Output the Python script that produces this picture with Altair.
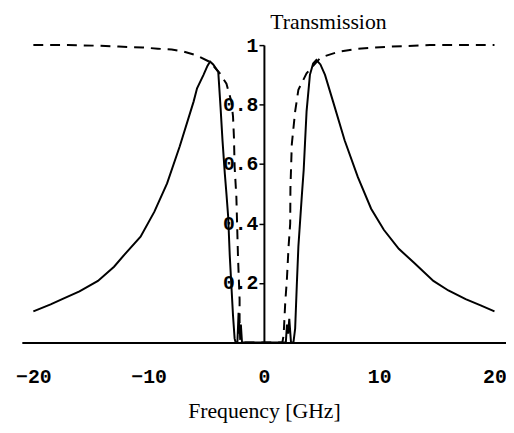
import altair as alt
import pandas as pd

# Solid curve (frequency in GHz, transmission)
solid_f = [-20, -18.5, -17.5, -16, -14.4, -13, -12, -10.7, -9.5, -8.4, -7.3, -6.1, -5.8, -5.24,
           -4.9, -4.67, -4.4, -3.96, -3.76, -3.59, -3.39, -3.25, -3.1, -2.96, -2.82, -2.68, -2.54,
           -2.45, -2.3, -2.2, -2.1, -2.0, -1.9,
           1.9, 2.0, 2.1, 2.2, 2.35, 2.56, 2.71, 2.85, 2.99, 3.3, 3.45, 3.56, 3.7, 3.99, 4.27, 4.55,
           4.9, 5.3, 6.0, 7.0, 8.15, 9.3, 10.4, 11.7, 13.0, 14.7, 16.0, 17.5, 18.8, 20]
solid_t = [0.105, 0.128, 0.146, 0.172, 0.207, 0.255, 0.3, 0.356, 0.44, 0.535, 0.66, 0.81, 0.855, 0.9,
           0.93, 0.945, 0.935, 0.91, 0.79, 0.678, 0.567, 0.50, 0.423, 0.29, 0.19, 0.09, 0.013,
           0, 0, 0.1, 0.03, 0.06, 0,
           0, 0.06, 0.03, 0.08, 0, 0, 0.047, 0.19, 0.323, 0.5, 0.58, 0.667, 0.777, 0.9, 0.938, 0.95,
           0.935, 0.9, 0.81, 0.68, 0.556, 0.45, 0.379, 0.315, 0.269, 0.207, 0.175, 0.146, 0.125, 0.105]

# Dashed curve
dash_f = [-20, -17, -14.4, -12.6, -10.5, -9.2, -8, -6.95, -5.8, -4.67, -3.82, -3.25, -2.82, -2.68,
          -2.6, -2.54, -2.39, -2.25, -2.11, -2.11, -2.05, -1.7,
          1.6, 1.71, 1.85, 1.99, 2.14, 2.28, 2.3, 2.42, 2.71, 2.99, 3.7, 4.27, 4.84, 5.3, 6.5, 8.15,
          11, 14.4, 20]
dash_t = [1.0, 1.0, 0.998, 0.995, 0.992, 0.988, 0.985, 0.978, 0.965, 0.943, 0.905, 0.87, 0.81, 0.76,
          0.69, 0.59, 0.49, 0.29, 0.146, 0.07, 0, 0,
          0, 0.024, 0.135, 0.21, 0.323, 0.4, 0.52, 0.667, 0.777, 0.85, 0.905, 0.93, 0.955, 0.963, 0.978, 0.988,
          0.995, 1.0, 1.0]

x_ticks = [-20, -10, 0, 10, 20]
y_ticks = [0.2, 0.4, 0.6, 0.8, 1]

rows = []
for i, (f, t) in enumerate(zip(solid_f, solid_t)):
    rows.append({"f": f, "t": t, "s": "solid", "i": i})
for i, (f, t) in enumerate(zip(dash_f, dash_t)):
    rows.append({"f": f, "t": t, "s": "dash", "i": i})
df = pd.DataFrame(rows)

W, H = 490, 301
xs = alt.Scale(domain=[-21, 21], nice=False, zero=False)
ys = alt.Scale(domain=[0, 1], nice=False)

xaxis = alt.Axis(values=x_ticks, format="d", title="Frequency [GHz]", grid=False,
                 tickSize=0, labelPadding=24, labelFlush=False, labelOverlap=False,
                 labelFont="Liberation Mono", labelFontSize=20, labelFontWeight="bold",
                 labelColor="black", domainColor="black", domainWidth=2,
                 titleFont="Liberation Serif", titleFontSize=22, titleFontWeight="normal",
                 titleColor="black", titleY=76, titleBaseline="alphabetic")
yaxis = alt.Axis(values=y_ticks, format=".1~f", title="Transmission", offset=-245, grid=False,
                 tickSize=5, tickColor="black", tickWidth=1.5, labelPadding=1,
                 labelFlush=False, labelOverlap=False,
                 labelFont="Liberation Mono", labelFontSize=20, labelFontWeight="bold",
                 labelColor="black", domainColor="black", domainWidth=2,
                 titleFont="Liberation Serif", titleFontSize=22, titleFontWeight="normal",
                 titleColor="black", titleAngle=0, titleAlign="left", titleX=6, titleY=-17,
                 titleBaseline="alphabetic")

base = alt.Chart(df).encode(
    x=alt.X("f:Q", scale=xs, axis=xaxis),
    y=alt.Y("t:Q", scale=ys, axis=yaxis),
    order="i:Q",
)

solid = base.transform_filter(alt.datum.s == "solid").mark_line(color="black", strokeWidth=2)
dash = base.transform_filter(alt.datum.s == "dash").mark_line(color="black", strokeWidth=2,
                                                              strokeDash=[10, 7])

chart = alt.layer(solid, dash).properties(
    width=W, height=H,
    padding={"left": 14, "top": 35, "right": 0, "bottom": 88},
    autosize=alt.AutoSizeParams(type="none"),
).configure_view(stroke=None)

chart.save("out.html", embed_options={"renderer": "svg", "actions": False})
